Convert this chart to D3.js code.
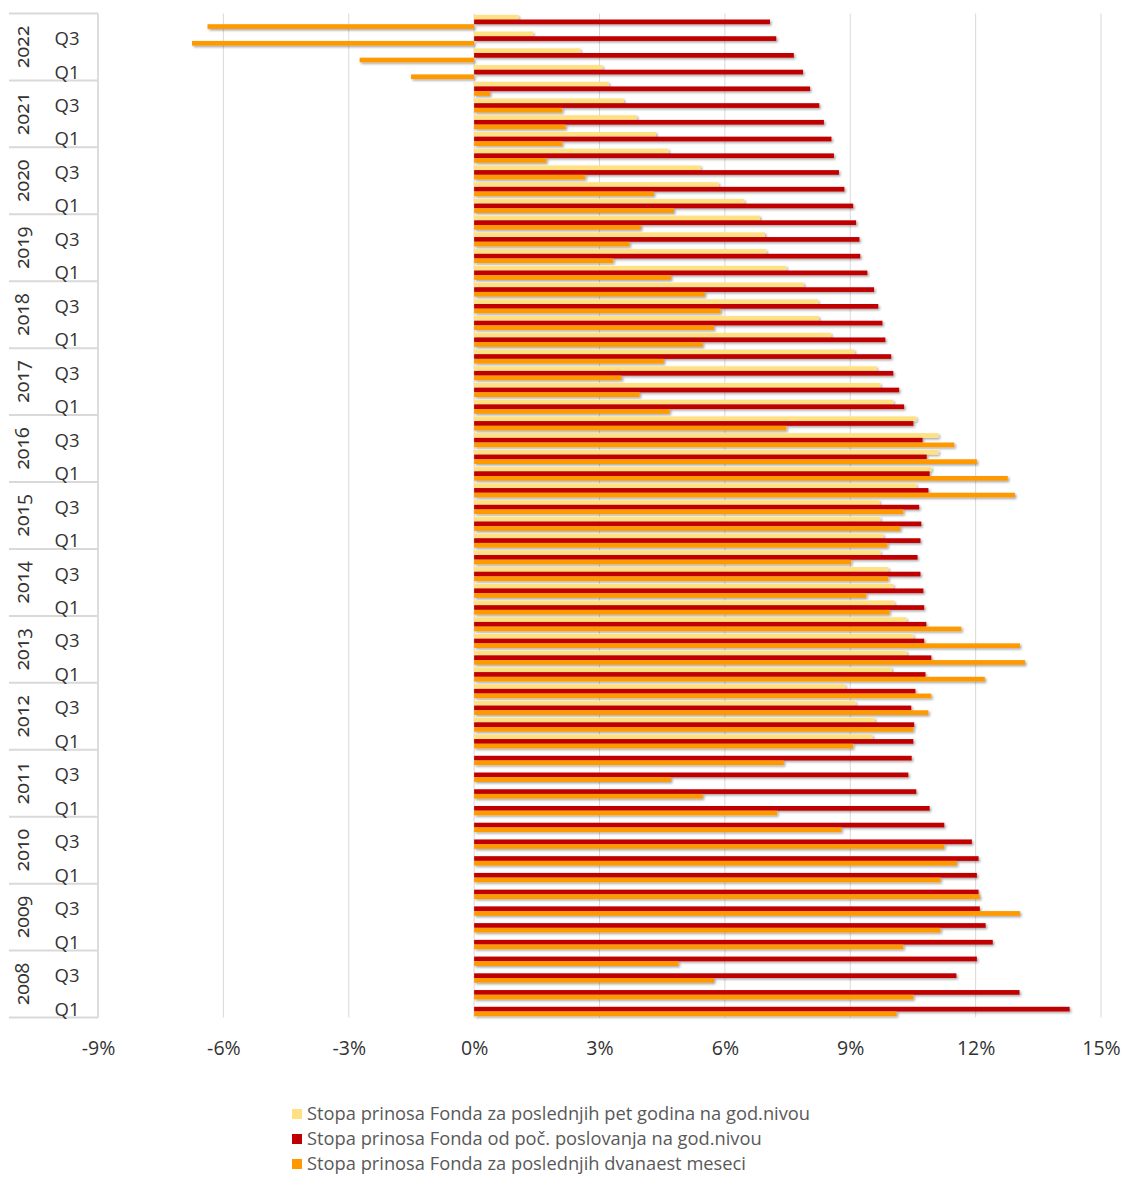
<!DOCTYPE html>
<html>
<head>
<meta charset="utf-8">
<script src="https://cdn.jsdelivr.net/npm/d3@7"></script>
<style>
  html, body { margin: 0; padding: 0; background: #fff; }
  svg { display: block; font-family: "Open Sans", "Noto Sans", sans-serif; }
</style>
</head>
<body>
<svg id="chart" width="1126" height="1177"></svg>
<script>
// ---- data (chronological: 2008 Q1 ... 2022 Q4) ----
const years = [2008, 2009, 2010, 2011, 2012, 2013, 2014, 2015, 2016, 2017, 2018, 2019, 2020, 2021, 2022];
const quarters = ["Q1", "Q2", "Q3", "Q4"];
const tickValues = [-9, -6, -3, 0, 3, 6, 9, 12, 15];

// Stopa prinosa Fonda za poslednjih pet godina na god.nivou
const fiveYear = [
  null, null, null, null,
  null, null, null, null,
  null, null, null, null,
  null, null, null, null,
  9.53, 9.58, 9.12, 8.88,
  9.99, 10.35, 10.51, 10.34,
  10.05, 10.03, 9.91, 9.72,
  9.79, 9.72, 9.70, 10.58,
  10.94, 11.11, 11.11, 10.58,
  10.03, 9.72, 9.63, 9.10,
  8.54, 8.25, 8.23, 7.89,
  7.47, 6.99, 6.96, 6.84,
  6.46, 5.85, 5.42, 4.65,
  4.35, 3.89, 3.58, 3.22,
  3.07, 2.54, 1.41, 1.06
];
// Stopa prinosa Fonda od poč. poslovanja na god.nivou
const sinceStart = [
  14.25, 13.05, 11.54, 12.03,
  12.41, 12.24, 12.10, 12.07,
  12.03, 12.07, 11.91, 11.25,
  10.90, 10.58, 10.39, 10.47,
  10.51, 10.53, 10.46, 10.56,
  10.80, 10.94, 10.77, 10.82,
  10.77, 10.75, 10.68, 10.61,
  10.68, 10.70, 10.65, 10.87,
  10.90, 10.83, 10.73, 10.51,
  10.29, 10.17, 10.03, 9.98,
  9.84, 9.77, 9.67, 9.57,
  9.41, 9.24, 9.22, 9.14,
  9.07, 8.86, 8.73, 8.61,
  8.55, 8.37, 8.26, 8.04,
  7.87, 7.65, 7.23, 7.08
];
// Stopa prinosa Fonda za poslednjih dvanaest meseci
const twelveMonths = [
  10.11, 10.51, 5.74, 4.89,
  10.27, 11.16, 13.06, 12.10,
  11.16, 11.55, 11.25, 8.79,
  7.25, 5.47, 4.71, 7.41,
  9.07, 10.51, 10.87, 10.94,
  12.22, 13.18, 13.06, 11.66,
  9.94, 9.38, 9.91, 9.02,
  9.89, 10.20, 10.27, 12.94,
  12.77, 12.03, 11.49, 7.47,
  4.68, 3.96, 3.53, 4.54,
  5.47, 5.74, 5.90, 5.52,
  4.71, 3.33, 3.72, 3.99,
  4.78, 4.30, 2.66, 1.73,
  2.11, 2.19, 2.11, 0.38,
  -1.51, -2.74, -6.75, -6.38
];

const seriesNames = [
  "Stopa prinosa Fonda za poslednjih pet godina na god.nivou",
  "Stopa prinosa Fonda od poč. poslovanja na god.nivou",
  "Stopa prinosa Fonda za poslednjih dvanaest meseci"
];
const seriesKeys = ["five", "start", "twelve"];
const seriesValues = [fiveYear, sinceStart, twelveMonths];
const seriesColors = ["#FFE184", "#C00000", "#FF9900"];

(function () {
// ---- build category list ----
const cats = [];
years.forEach(yr => quarters.forEach(q => cats.push({ id: yr + "-" + q, year: yr, q })));
const catsTopDown = cats.slice().reverse(); // 2022 Q4 at top

// ---- layout ----
const svg = d3.select("#chart");
const pLeft = 98, pRight = 1101, pTop = 13.5, pBottom = 1017.5;

const x = d3.scaleLinear().domain([-9, 15]).range([pLeft, pRight]);
const y = d3.scaleBand().domain(catsTopDown.map(d => d.id)).range([pTop, pBottom])
  .paddingInner(0.16).paddingOuter(0.08);
const ySub = d3.scaleBand().domain(seriesKeys).range([0, y.bandwidth()]).padding(0);

// shadow filter
const defs = svg.append("defs");
const f = defs.append("filter").attr("id", "shadow")
  .attr("x", "-5%").attr("y", "-50%").attr("width", "110%").attr("height", "250%");
f.append("feDropShadow").attr("dx", 1.5).attr("dy", 1.5).attr("stdDeviation", 1)
  .attr("flood-color", "#000").attr("flood-opacity", 0.35);

// gridlines
svg.append("g").selectAll("line").data(tickValues).join("line")
  .attr("x1", d => x(d)).attr("x2", d => x(d))
  .attr("y1", pTop).attr("y2", pBottom)
  .attr("stroke", "#d9d9d9").attr("stroke-width", 1);

// left axis line
svg.append("line").attr("x1", pLeft).attr("x2", pLeft).attr("y1", pTop).attr("y2", pBottom)
  .attr("stroke", "#d9d9d9").attr("stroke-width", 1.5);

// year separators
const step = (pBottom - pTop) / cats.length;
const sepYs = d3.range(years.length + 1).map(k => pTop + k * 4 * step);
svg.append("g").selectAll("line").data(sepYs).join("line")
  .attr("x1", 9).attr("x2", pLeft)
  .attr("y1", d => d).attr("y2", d => d)
  .attr("stroke", "#d9d9d9").attr("stroke-width", 2);

// bars
const barData = [];
cats.forEach((c, i) => {
  seriesKeys.forEach((k, s) => {
    const v = seriesValues[s][i];
    if (v !== null && v !== undefined) barData.push({ id: c.id, key: k, s, v });
  });
});
svg.append("g").attr("filter", "url(#shadow)")
  .selectAll("rect").data(barData).join("rect")
  .attr("x", d => Math.min(x(0), x(d.v)))
  .attr("width", d => Math.abs(x(d.v) - x(0)))
  .attr("y", d => y(d.id) + ySub(d.key))
  .attr("height", ySub.bandwidth())
  .attr("fill", d => seriesColors[d.s]);

// x axis labels
const xAxis = d3.axisBottom(x).tickValues(tickValues).tickFormat(d => d + "%").tickSize(0).tickPadding(0);
const gx = svg.append("g").attr("transform", `translate(0, ${pBottom + 31})`).call(xAxis);
gx.select(".domain").remove();
gx.selectAll("text").attr("font-size", 19.5).attr("fill", "#333333")
  .attr("font-family", "'Open Sans', 'Noto Sans', sans-serif").attr("dy", "0.32em");

// quarter labels (Q1, Q3)
svg.append("g").selectAll("text").data(cats.filter(c => c.q === "Q1" || c.q === "Q3")).join("text")
  .attr("x", 67).attr("y", d => y(d.id) + y.bandwidth() / 2)
  .attr("text-anchor", "middle").attr("dy", "0.35em")
  .attr("font-size", 18.5).attr("fill", "#333333")
  .text(d => d.q);

// year labels
svg.append("g").selectAll("text").data(years).join("text")
  .attr("transform", d => {
    const cy = (y(d + "-Q4") + y(d + "-Q1") + y.bandwidth()) / 2;
    return `translate(22, ${cy}) rotate(-90)`;
  })
  .attr("text-anchor", "middle").attr("dy", "0.35em")
  .attr("font-size", 19.5).attr("fill", "#333333")
  .style("font-variant-numeric", "oldstyle-nums")
  .text(d => d);

// legend
const lg = svg.append("g").selectAll("g").data(seriesNames).join("g")
  .attr("transform", (d, i) => `translate(292, ${1114 + i * 25})`);
lg.append("rect").attr("x", 0).attr("y", -5).attr("width", 10).attr("height", 10)
  .attr("fill", (d, i) => seriesColors[i]);
lg.append("text").attr("x", 15).attr("y", 0).attr("dy", "0.35em")
  .attr("font-size", 18.3).attr("fill", "#595959")
  .text(d => d);
})();
</script>
</body>
</html>
